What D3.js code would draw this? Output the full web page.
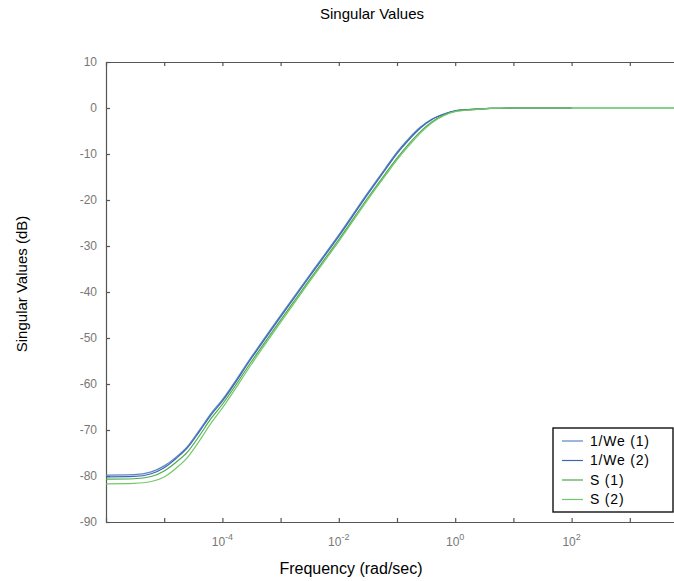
<!DOCTYPE html>
<html>
<head>
<meta charset="utf-8">
<script src="https://cdn.jsdelivr.net/npm/d3@7"></script>
<style>
  body { margin: 0; background: #fff; }
  svg { display: block; font-family: "Liberation Sans", Arial, sans-serif; }
  .axis path, .axis line { stroke: #555; stroke-width: 1.2; }
  .axis text { fill: #777; font-size: 12px; }
</style>
</head>
<body>
<div id="chart"></div>
<script>
// frequency samples (rad/sec)
const freq = [1e-6, 3e-6, 6e-6, 1e-5, 1.6e-5, 2.5e-5, 4e-5, 6.3e-5, 1e-4, 3.2e-4, 1e-3, 3.2e-3, 1e-2,
    3.2e-2, 0.063, 0.1, 0.16, 0.25, 0.4, 0.63, 1, 2, 4, 10, 100, 1000, 10000];

// singular values in dB
const we1 = [-79.8, -79.7, -79.1, -77.8, -75.9, -73.6, -70.1, -66.5, -63.4, -54.0, -45.1, -36.2, -27.6,
    -18.3, -13.1, -9.6, -6.6, -4.2, -2.4, -1.3, -0.6, -0.3, -0.1, 0, 0, null, null];
const we2 = [-80.2, -80.1, -79.5, -78.2, -76.2, -73.9, -70.4, -66.8, -63.7, -54.3, -45.4, -36.5, -27.9,
    -18.6, -13.4, -9.9, -6.9, -4.4, -2.5, -1.4, -0.6, -0.3, -0.1, 0, 0, null, null];
const s1 = [-80.7, -80.6, -80.1, -78.9, -77.0, -74.8, -71.3, -67.6, -64.4, -55.0, -46.1, -37.2, -28.6,
    -19.4, -14.3, -10.9, -7.8, -5.2, -3.0, -1.6, -0.7, -0.3, -0.1, 0, 0, 0, 0];
const s2 = [-81.7, -81.6, -81.2, -80.2, -78.3, -76.0, -72.4, -68.6, -65.2, -55.6, -46.6, -37.6, -29.0,
    -19.8, -14.7, -11.3, -8.2, -5.5, -3.2, -1.7, -0.8, -0.4, -0.1, 0, 0, 0, 0];

const seriesNames = ["1/We (1)", "1/We (2)", "S (1)", "S (2)"];
const seriesColors = ["#5a86c8", "#3f66b0", "#4caa4c", "#72c868"];

const yTicks = [10, 0, -10, -20, -30, -40, -50, -60, -70, -80, -90];
const xTicks = [1e-6, 1e-5, 1e-4, 1e-3, 1e-2, 1e-1, 1, 10, 100, 1000, 10000];
const xLabelExps = [-4, -2, 0, 2];

const width = 674, height = 581;
const margin = { top: 62, right: -14, bottom: 59, left: 106 };

const svg = d3.select("#chart").append("svg")
    .attr("width", width)
    .attr("height", height);

const x = d3.scaleLog()
    .domain([1e-6, 1e4])
    .range([margin.left, width - margin.right]);

const y = d3.scaleLinear()
    .domain([-90, 10])
    .range([height - margin.bottom, margin.top]);

// title and axis labels
svg.append("text")
    .attr("x", 372).attr("y", 19)
    .attr("text-anchor", "middle")
    .attr("font-size", 15)
    .text("Singular Values");

svg.append("text")
    .attr("x", 351).attr("y", 574)
    .attr("text-anchor", "middle")
    .attr("font-size", 16)
    .text("Frequency (rad/sec)");

svg.append("text")
    .attr("transform", "translate(27,284) rotate(-90)")
    .attr("text-anchor", "middle")
    .attr("font-size", 15)
    .text("Singular Values (dB)");

// axes (ticks point inward)
svg.append("g")
    .attr("class", "axis")
    .attr("transform", `translate(0,${height - margin.bottom})`)
    .call(d3.axisBottom(x).tickValues(xTicks).tickSizeInner(-4).tickSizeOuter(0).tickFormat(""));

svg.append("g")
    .attr("class", "axis")
    .attr("transform", `translate(0,${margin.top})`)
    .call(d3.axisTop(x).tickValues(xTicks).tickSizeInner(-4).tickSizeOuter(0).tickFormat(""));

svg.append("g")
    .attr("class", "axis")
    .attr("transform", `translate(${margin.left},0)`)
    .call(d3.axisLeft(y).tickValues(yTicks).tickSizeInner(-4).tickSizeOuter(0).tickPadding(9)
        .tickFormat(d => String(d)));

// x tick labels with superscripts
const xl = svg.append("g")
    .selectAll("text")
    .data(xLabelExps)
    .join("text")
    .attr("x", d => x(Math.pow(10, d)))
    .attr("y", height - margin.bottom + 24)
    .attr("text-anchor", "middle")
    .attr("fill", "#777")
    .attr("font-size", 12);
xl.append("tspan").text("10");
xl.append("tspan").attr("dy", -6).attr("font-size", 9).text(d => String(d));

// curves
svg.append("clipPath").attr("id", "plot")
    .append("rect")
    .attr("x", margin.left).attr("y", margin.top)
    .attr("width", width - margin.right - margin.left)
    .attr("height", height - margin.bottom - margin.top);

const line = d3.line()
    .defined(d => d[1] !== null)
    .x(d => x(d[0]))
    .y(d => y(d[1]))
    .curve(d3.curveMonotoneX);

const series = [we1, we2, s1, s2];
svg.append("g")
    .attr("clip-path", "url(#plot)")
    .selectAll("path")
    .data(series)
    .join("path")
    .attr("fill", "none")
    .attr("stroke", (d, i) => seriesColors[i])
    .attr("stroke-width", 1.2)
    .attr("d", d => line(freq.map((f, i) => [f, d[i]])));

// legend
const lg = svg.append("g").attr("transform", "translate(553,428)");
lg.append("rect")
    .attr("width", 120).attr("height", 84)
    .attr("fill", "#fff").attr("stroke", "#111").attr("stroke-width", 1.4);
const items = lg.selectAll("g")
    .data(seriesNames)
    .join("g")
    .attr("transform", (d, i) => `translate(0,${13 + i * 19.5})`);
items.append("line")
    .attr("x1", 9).attr("x2", 30)
    .attr("stroke", (d, i) => seriesColors[i])
    .attr("stroke-width", 1.2);
items.append("text")
    .attr("x", 37).attr("dy", "0.35em")
    .attr("font-size", 14)
    .attr("letter-spacing", 0.8)
    .text(d => d);
</script>
</body>
</html>
